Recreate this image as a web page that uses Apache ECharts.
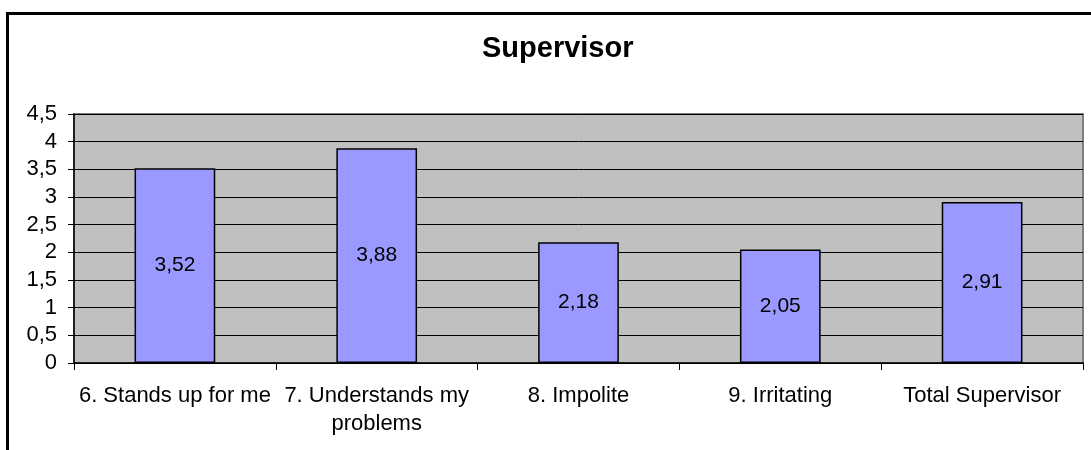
<!DOCTYPE html>
<html>
<head>
    <meta http-equiv="Content-Type" content="text/html; charset=utf-8" />
    <title>Supervisor</title>
    <style>
        html, body { margin: 0; padding: 0; background: #fff; }
        #main { width: 1091px; height: 450px; }
    </style>
</head>
<body>
    <div id="main"></div>
    <script src="https://cdn.jsdelivr.net/npm/echarts@6/dist/echarts.min.js"></script>
    <script type="text/javascript">
        var categories = ['6. Stands up for me', '7. Understands my\nproblems', '8. Impolite', '9. Irritating', 'Total Supervisor'];
        var values = [3.52, 3.88, 2.18, 2.05, 2.91];
        var yTicks = [0, 0.5, 1, 1.5, 2, 2.5, 3, 3.5, 4, 4.5];

        var fontFamily = '"Liberation Sans", Arial, sans-serif';

        function comma(v) {
            return String(v).replace('.', ',');
        }

        var myChart = echarts.init(document.getElementById('main'));
        var option = {
            animation: false,
            backgroundColor: '#ffffff',
            textStyle: { fontFamily: fontFamily },
            title: {
                text: 'Supervisor',
                left: 477,
                top: 29,
                textStyle: { fontSize: 29, fontWeight: 'bold', color: '#000', fontFamily: fontFamily }
            },
            graphic: [
                {
                    type: 'rect',
                    shape: { x: 7.5, y: 13.5, width: 1200, height: 1000 },
                    style: { fill: 'none', stroke: '#000', lineWidth: 3 },
                    silent: true
                }
            ],
            grid: {
                left: 74,
                right: 8,
                top: 114,
                bottom: 87,
                show: true,
                backgroundColor: '#c0c0c0',
                borderColor: '#808080',
                borderWidth: 2
            },
            xAxis: {
                type: 'category',
                data: categories,
                axisLine: { show: true, lineStyle: { color: '#000', width: 1.5 } },
                axisTick: { show: true, length: 7, lineStyle: { color: '#000' } },
                axisLabel: {
                    color: '#000',
                    fontSize: 22,
                    lineHeight: 28,
                    margin: 19,
                    interval: 0,
                    fontFamily: fontFamily
                }
            },
            yAxis: {
                type: 'value',
                min: yTicks[0],
                max: yTicks[yTicks.length - 1],
                interval: 0.5,
                axisLine: { show: true, lineStyle: { color: '#000', width: 1.5 } },
                axisTick: { show: true, length: 6, lineStyle: { color: '#000' } },
                splitLine: { show: true, lineStyle: { color: '#000', width: 1 } },
                axisLabel: {
                    color: '#000',
                    fontSize: 22,
                    margin: 17,
                    fontFamily: fontFamily,
                    formatter: function (v) { return comma(v); }
                }
            },
            series: [
                {
                    type: 'bar',
                    data: values,
                    barCategoryGap: '60%',
                    itemStyle: { color: '#9999ff', borderColor: '#000', borderWidth: 1.5 },
                    label: {
                        show: true,
                        position: 'inside',
                        color: '#000',
                        fontSize: 21,
                        fontFamily: fontFamily,
                        formatter: function (p) { return comma(p.value); }
                    }
                }
            ]
        };
        myChart.setOption(option);
    </script>
</body>
</html>
